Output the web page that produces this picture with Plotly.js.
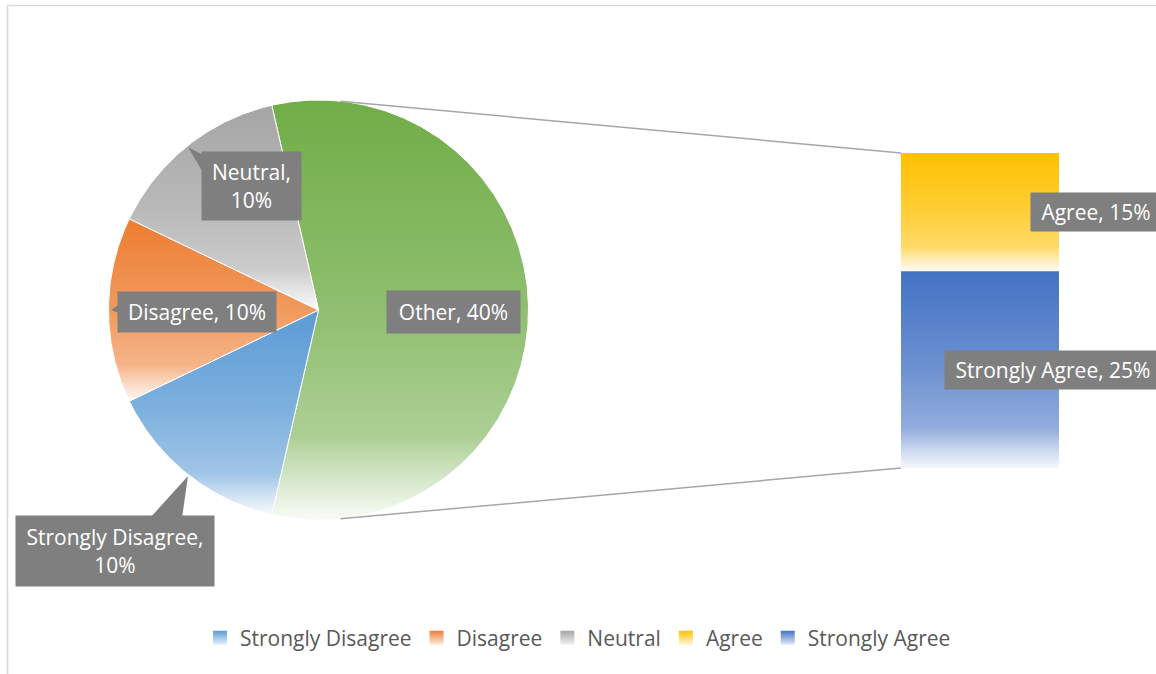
<!DOCTYPE html>
<html>
<head>
<meta charset="utf-8">
<script src="https://cdn.plot.ly/plotly-3.0.1.min.js"></script>
<style>html,body{margin:0;padding:0;background:#fff;}#chart{width:1156px;height:674px;}</style>
</head>
<body>
<div id="chart"></div>
<script>
// ---- data ----
const pieCategories = ['Strongly Disagree', 'Disagree', 'Neutral'];
const pieValues = [10, 10, 10];
const barCategories = ['Agree', 'Strongly Agree'];
const barValues = [15, 25];
const otherLabel = 'Other';

// ---- styles ----
const colors = {
  'Strongly Disagree': '#5B9BD5',
  'Disagree': '#ED7D31',
  'Neutral': '#A5A5A5',
  'Agree': '#FFC000',
  'Strongly Agree': '#4472C4',
  'Other': '#70AD47'
};
const FONT = '"Open Sans", Lato, sans-serif';
const FS = 21;
const W = 1156, H = 674;
const cx = 318.5, cy = 310, R = 210;          // pie geometry (pixels)
const barX0 = 901, barX1 = 1059, barTop = 153, barBottom = 468;

function hexToRgb(h) { h = h.replace('#', ''); return [0, 2, 4].map(i => parseInt(h.substr(i, 2), 16)); }
function tint(c, f) { const [r, g, b] = hexToRgb(c); const m = v => Math.round(v + (255 - v) * f); return `rgb(${m(r)},${m(g)},${m(b)})`; }
// 0 = bottom of shape (light), 1 = top (full colour)
function gradScale(c) { return [[0, tint(c, 0.95)], [0.1, tint(c, 0.7)], [0.2, tint(c, 0.42)], [0.5, tint(c, 0.22)], [1, c]]; }

const otherValue = barValues.reduce((a, b) => a + b, 0);
const pieAll = [otherLabel].concat(pieCategories);
const pieVals = [otherValue].concat(pieValues);
const pieTotal = pieVals.reduce((a, b) => a + b, 0);

const traces = [];
const pt = (deg) => { const a = deg * Math.PI / 180; return [cx + R * Math.sin(a), cy - R * Math.cos(a)]; };

// pie slices, clockwise from the angle that centres "Other" on the right
let ang = 90 - (otherValue / pieTotal) * 180;
pieAll.forEach((cat, i) => {
  const sweep = pieVals[i] / pieTotal * 360;
  const xs = [cx], ys = [cy];
  for (let a = ang; a < ang + sweep; a += 0.5) { const p = pt(a); xs.push(p[0]); ys.push(p[1]); }
  const pe = pt(ang + sweep); xs.push(pe[0]); ys.push(pe[1]);
  xs.push(cx); ys.push(cy);
  traces.push({
    type: 'scatter', mode: 'lines', x: xs, y: ys, fill: 'toself',
    fillgradient: { type: 'vertical', colorscale: gradScale(colors[cat]) },
    line: { color: '#ffffff', width: 1 }, showlegend: false, hoverinfo: 'text',
    text: `${cat}, ${pieVals[i]}%`, name: cat
  });
  ang += sweep;
});

// stacked bar (breakdown of "Other")
const unit = (barBottom - barTop) / otherValue;
let yCur = barTop;
const barMid = [];
barCategories.forEach((cat, i) => {
  const y0 = yCur, y1 = yCur + barValues[i] * unit;
  barMid.push((y0 + y1) / 2);
  traces.push({
    type: 'scatter', mode: 'lines', x: [barX0, barX1, barX1, barX0, barX0], y: [y0, y0, y1, y1, y0],
    fill: 'toself', fillgradient: { type: 'vertical', colorscale: gradScale(colors[cat]) },
    line: { color: 'rgba(0,0,0,0)', width: 0 }, showlegend: false, hoverinfo: 'text',
    text: `${cat}, ${barValues[i]}%`, name: cat
  });
  yCur = y1;
});

// connector lines
const conn = pt(6);
traces.push({ type: 'scatter', mode: 'lines', x: [conn[0], barX0], y: [conn[1], barTop], line: { color: '#A6A6A6', width: 1.5 }, showlegend: false, hoverinfo: 'skip' });
traces.push({ type: 'scatter', mode: 'lines', x: [conn[0], barX0], y: [2 * cy - conn[1], barBottom], line: { color: '#A6A6A6', width: 1.5 }, showlegend: false, hoverinfo: 'skip' });

// legend entries
pieCategories.concat(barCategories).forEach(cat => {
  traces.push({
    type: 'scatter', mode: 'markers', x: [null], y: [null], name: cat,
    marker: { symbol: 'square', size: 14, color: colors[cat], gradient: { type: 'vertical', color: tint(colors[cat], 0.85) } },
    showlegend: true
  });
});

// data labels
const boxStyle = { bgcolor: '#7F7F7F', font: { family: FONT, size: FS, color: '#ffffff' }, showarrow: false, borderpad: 2 };
const pieLab = {
  'Other': { x: 453, y: 312, text: `${otherLabel}, ${otherValue}%`, w: 129, h: 38 },
  'Disagree': { x: 197, y: 312, w: 154, h: 36 },
  'Neutral': { x: 251, y: 186, w: 95, h: 64, br: true },
  'Strongly Disagree': { x: 115, y: 551, w: 194, h: 66, br: true }
};
const annotations = [];
pieAll.forEach((cat, i) => {
  const L = pieLab[cat];
  const txt = L.text || (L.br ? `${cat},<br>${pieVals[i]}%` : `${cat}, ${pieVals[i]}%`);
  annotations.push(Object.assign({}, boxStyle, { xref: 'x', yref: 'y', x: L.x, y: L.y, text: txt, width: L.w, height: L.h }));
});
barCategories.forEach((cat, i) => {
  annotations.push(Object.assign({}, boxStyle, {
    xref: 'paper', yref: 'paper', x: 1162 / W, xanchor: 'right', y: 1 - barMid[i] / H, yanchor: 'middle',
    text: `${cat}, ${barValues[i]}%`, height: 34, width: cat === 'Agree' ? 126 : 212
  }));
});

const shapes = [
  // chart border (top and left edges visible)
  { type: 'path', xref: 'x', yref: 'y', path: 'M7.5,680 L7.5,5.5 L1160,5.5', line: { color: '#D9D9D9', width: 1.5 } },
  // callout tails
  { type: 'path', xref: 'x', yref: 'y', path: 'M150,518 L188,476 L182,518 Z', fillcolor: '#7F7F7F', line: { width: 0 } },
  { type: 'path', xref: 'x', yref: 'y', path: 'M205,156 L188,147 L205,176 Z', fillcolor: '#7F7F7F', line: { width: 0 } },
  { type: 'path', xref: 'x', yref: 'y', path: 'M121,303 L111,310 L121,314 Z', fillcolor: '#7F7F7F', line: { width: 0 } }
];

const layout = {
  width: W, height: H,
  margin: { l: 0, r: 0, t: 0, b: 0 },
  paper_bgcolor: '#ffffff', plot_bgcolor: '#ffffff',
  xaxis: { range: [0, W], visible: false, fixedrange: true },
  yaxis: { range: [H, 0], visible: false, fixedrange: true },
  showlegend: true,
  legend: { orientation: 'h', x: 0.5, xanchor: 'center', y: 1 - 638 / H, yanchor: 'middle', font: { family: FONT, size: FS, color: '#595959' }, itemwidth: 30, bgcolor: 'rgba(0,0,0,0)' },
  annotations: annotations,
  shapes: shapes,
  font: { family: FONT }
};

Plotly.newPlot('chart', traces, layout, { displayModeBar: false, staticPlot: true });
</script>
</body>
</html>
